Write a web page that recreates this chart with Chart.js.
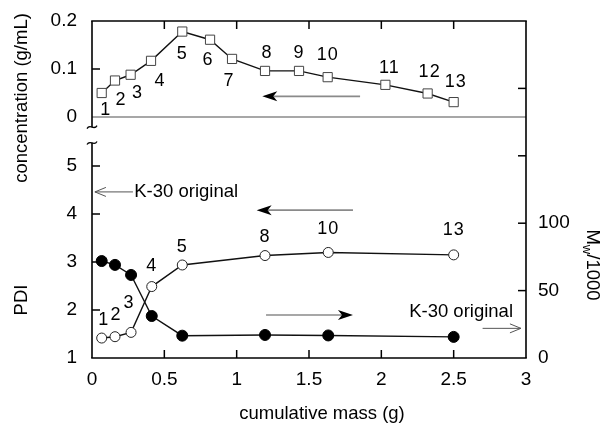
<!DOCTYPE html>
<html><head><meta charset="utf-8">
<script src="https://cdn.jsdelivr.net/npm/chart.js@4/dist/chart.umd.min.js"></script>
<style>html,body{margin:0;padding:0;background:#fff}#wrap{width:612px;height:435px;position:relative}</style>
</head><body><div id="wrap"><canvas id="c"></canvas></div>
<script>
// ---- data ----
const fracTop = ['1','2','3','4','5','6','7','8','9','10','11','12','13'];
const massTop = [0.067,0.159,0.267,0.408,0.624,0.816,0.968,1.196,1.431,1.629,2.028,2.320,2.500];
const concentration = [0.050,0.076,0.088,0.117,0.178,0.161,0.121,0.096,0.096,0.083,0.067,0.049,0.031];

const fracBottom = ['1','2','3','4','5','8','10','13'];
const massBottom = [0.067,0.159,0.270,0.413,0.624,1.196,1.633,2.500];
const pdi = [3.02,2.94,2.73,1.875,1.465,1.48,1.47,1.44];
const mwK = [14.8,15.8,19.0,53.0,69.0,76.0,78.3,76.5];

const k30Pdi = 4.46;   // K-30 original PDI
const k30Mw = 22;      // K-30 original Mw/1000

const xTicks = [0,0.5,1,1.5,2,2.5,3];
const concTicks = [0,0.1,0.2];
const pdiTicks = [1,2,3,4,5];
const mwLabelTicks = [0,50,100];
const mwMarkTicks = [50,100,150,200];

// label offsets (px) relative to their points
const topLabelOffsets = [[4,17],[6,20],[7,18],[9,20],[0,22],[-2,20],[-3,22],[2,-18],[0,-18],[0,-22],[4,-17],[2,-21],[2,-20]];
const bottomLabelOffsets = [[2,-18],[1,-22],[-2,-29],[0,-21],[0,-18],[0,-19],[0,-23],[0,-25]];

const FONT = '"Liberation Sans", Arial, Helvetica, sans-serif';

function line(ctx,x1,y1,x2,y2){ctx.beginPath();ctx.moveTo(x1,y1);ctx.lineTo(x2,y2);ctx.stroke();}
function arrow(ctx,x1,y1,x2,y2,filled,color){
  ctx.save();
  ctx.strokeStyle=color; ctx.lineWidth=filled?1.6:1;
  const ang=Math.atan2(y2-y1,x2-x1);
  const ca=Math.cos(ang), sa=Math.sin(ang);
  if(filled){
    const L=15,W=5,N=4;
    line(ctx,x1,y1,x2-ca*(L-N),y2-sa*(L-N));
    ctx.fillStyle='#000';
    ctx.beginPath();
    ctx.moveTo(x2,y2);
    ctx.lineTo(x2-ca*L - sa*W, y2-sa*L + ca*W);
    ctx.lineTo(x2-ca*(L-N), y2-sa*(L-N));
    ctx.lineTo(x2-ca*L + sa*W, y2-sa*L - ca*W);
    ctx.closePath(); ctx.fill();
  } else {
    line(ctx,x1,y1,x2,y2);
    const L=11,W=4.5;
    ctx.beginPath();
    ctx.moveTo(x2-ca*L - sa*W, y2-sa*L + ca*W);
    ctx.lineTo(x2,y2);
    ctx.lineTo(x2-ca*L + sa*W, y2-sa*L - ca*W);
    ctx.stroke();
  }
  ctx.restore();
}
function tilde(ctx,x,y){
  ctx.beginPath();
  ctx.moveTo(x-5,y+1.5);
  ctx.bezierCurveTo(x-2,y-4,x+2,y+4,x+5,y-1.5);
  ctx.stroke();
}

const framePlugin = {
  id:'frame',
  beforeDatasetsDraw(chart){
    const {ctx, chartArea:a, scales:s} = chart;
    ctx.save();
    // zero line of concentration panel
    ctx.strokeStyle='#8a8a8a'; ctx.lineWidth=1.5;
    const y0=s.yC.getPixelForValue(0);
    line(ctx,a.left,y0,a.right,y0);
    ctx.restore();
    // direction arrows
    arrow(ctx, s.x.getPixelForValue(1.853), s.yC.getPixelForValue(0.043), s.x.getPixelForValue(1.177), s.yC.getPixelForValue(0.043), true, '#8a8a8a');
    arrow(ctx, s.x.getPixelForValue(1.804), s.yP.getPixelForValue(4.08), s.x.getPixelForValue(1.138), s.yP.getPixelForValue(4.08), true, '#8a8a8a');
    arrow(ctx, s.x.getPixelForValue(1.203), s.yP.getPixelForValue(1.896), s.x.getPixelForValue(1.804), s.yP.getPixelForValue(1.896), true, '#8a8a8a');
    // K-30 original markers
    arrow(ctx, s.x.getPixelForValue(0.283), s.yP.getPixelForValue(k30Pdi), s.x.getPixelForValue(0.02), s.yP.getPixelForValue(k30Pdi), false, '#555');
    arrow(ctx, s.x.getPixelForValue(2.70), s.yM.getPixelForValue(k30Mw), s.x.getPixelForValue(2.965), s.yM.getPixelForValue(k30Mw), false, '#555');
  },
  afterDatasetsDraw(chart){
    const {ctx, chartArea:a, scales:s} = chart;
    ctx.save();
    ctx.strokeStyle='#000'; ctx.lineWidth=1.6; ctx.lineCap='butt';
    // frame
    line(ctx,a.left-0.8,a.top,a.right+0.8,a.top);
    line(ctx,a.left-0.8,a.bottom,a.right+0.8,a.bottom);
    line(ctx,a.right,a.top,a.right,a.bottom);
    const yb1=s.yC.getPixelForValue(-0.021), yb2=s.yP.getPixelForValue(5.48);
    line(ctx,a.left,a.top,a.left,yb1);
    line(ctx,a.left,yb2,a.left,a.bottom);
    ctx.lineWidth=1.3;
    tilde(ctx,a.left,yb1); tilde(ctx,a.left,yb2);
    ctx.lineWidth=1.5;
    const T=8;
    // x ticks top & bottom (inward)
    xTicks.forEach(v=>{ if(v===0||v===3) return; const x=s.x.getPixelForValue(v);
      line(ctx,x,a.top,x,a.top+T); line(ctx,x,a.bottom,x,a.bottom-T); });
    // left ticks
    concTicks.forEach(v=>{ if(v===0.1){const y=s.yC.getPixelForValue(v); line(ctx,a.left,y,a.left+T,y);} });
    pdiTicks.forEach(v=>{ if(v>1){const y=s.yP.getPixelForValue(v); line(ctx,a.left,y,a.left+T,y);} });
    // right ticks
    mwMarkTicks.forEach(v=>{ const y=s.yM.getPixelForValue(v); line(ctx,a.right,y,a.right-T,y); });

    // tick labels
    ctx.fillStyle='#000';
    ctx.font='19px '+FONT;
    ctx.textAlign='center'; ctx.textBaseline='middle';
    xTicks.forEach(v=>{ ctx.fillText(String(v), s.x.getPixelForValue(v), a.bottom+22); });
    ctx.textAlign='right';
    concTicks.forEach(v=>{ ctx.fillText(String(v), a.left-15, s.yC.getPixelForValue(v)); });
    pdiTicks.forEach(v=>{ ctx.fillText(String(v), a.left-15, s.yP.getPixelForValue(v)); });
    ctx.textAlign='left';
    mwLabelTicks.forEach(v=>{ ctx.fillText(String(v), a.right+12, s.yM.getPixelForValue(v)); });

    // point number labels
    ctx.font='18px '+FONT; ctx.textAlign='center';
    try{ctx.letterSpacing='1px';}catch(e){}
    fracTop.forEach((t,i)=>{
      const x=s.x.getPixelForValue(massTop[i]), y=s.yC.getPixelForValue(concentration[i]);
      ctx.fillText(t, x+topLabelOffsets[i][0], y+topLabelOffsets[i][1]);
    });
    fracBottom.forEach((t,i)=>{
      const x=s.x.getPixelForValue(massBottom[i]), y=s.yM.getPixelForValue(mwK[i]);
      ctx.fillText(t, x+bottomLabelOffsets[i][0], y+bottomLabelOffsets[i][1]);
    });
    try{ctx.letterSpacing='0px';}catch(e){}

    // K-30 original texts
    ctx.font='18.5px '+FONT;
    ctx.textAlign='left';
    ctx.fillText('K-30 original', s.x.getPixelForValue(0.285)+1, s.yP.getPixelForValue(k30Pdi));
    ctx.textAlign='right';
    ctx.fillText('K-30 original', a.right-13, s.yM.getPixelForValue(k30Mw)-16);

    // axis titles
    ctx.font='18.5px '+FONT;
    ctx.textAlign='center';
    ctx.fillText('cumulative mass (g)', 322, 414);
    ctx.save(); ctx.translate(22,98); ctx.rotate(-Math.PI/2); ctx.fillText('concentration (g/mL)',0,0); ctx.restore();
    ctx.save(); ctx.translate(22,300); ctx.rotate(-Math.PI/2); ctx.fillText('PDI',0,0); ctx.restore();
    ctx.save(); ctx.translate(592,265); ctx.rotate(Math.PI/2);
    ctx.textAlign='left';
    const w1=ctx.measureText('M').width; ctx.font='13px '+FONT; const w2=ctx.measureText('w').width;
    ctx.font='18.5px '+FONT; const w3=ctx.measureText('/1000').width;
    let x0=-(w1+w2+w3)/2;
    ctx.fillText('M',x0,0); x0+=w1;
    ctx.font='13px '+FONT; ctx.fillText('w',x0,5); x0+=w2;
    ctx.font='18.5px '+FONT; ctx.fillText('/1000',x0,0);
    ctx.restore();
    ctx.restore();
  }
};

new Chart(document.getElementById('c'), {
  type:'line',
  data:{ datasets:[
    { label:'concentration', yAxisID:'yC',
      data: massTop.map((x,i)=>({x, y:concentration[i]})),
      borderColor:'#111', borderWidth:1.4, tension:0,
      pointStyle:'rect', pointRadius:6.5, pointBorderColor:'#444', pointBorderWidth:1, pointBackgroundColor:'#fff' },
    { label:'PDI', yAxisID:'yP',
      data: massBottom.map((x,i)=>({x, y:pdi[i]})),
      borderColor:'#111', borderWidth:1.4, tension:0,
      pointStyle:'circle', pointRadius:5.5, pointBorderColor:'#000', pointBorderWidth:1, pointBackgroundColor:'#000' },
    { label:'Mw/1000', yAxisID:'yM',
      data: massBottom.map((x,i)=>({x, y:mwK[i]})),
      borderColor:'#111', borderWidth:1.4, tension:0,
      pointStyle:'circle', pointRadius:5, pointBorderColor:'#222', pointBorderWidth:1, pointBackgroundColor:'#fff' }
  ]},
  options:{
    responsive:true, maintainAspectRatio:false, animation:false, devicePixelRatio:1,
    layout:{ padding:{ left:92, right:86, top:21, bottom:77 } },
    plugins:{ legend:{display:false}, tooltip:{enabled:false} },
    scales:{
      x:{ type:'linear', min:0, max:3, display:false },
      yC:{ type:'linear', min:0.2-337/480, max:0.2, display:false },
      yP:{ type:'linear', min:1, max:1+337/48, display:false },
      yM:{ type:'linear', min:0, max:250, display:false }
    }
  },
  plugins:[framePlugin]
});
</script>
</body></html>
